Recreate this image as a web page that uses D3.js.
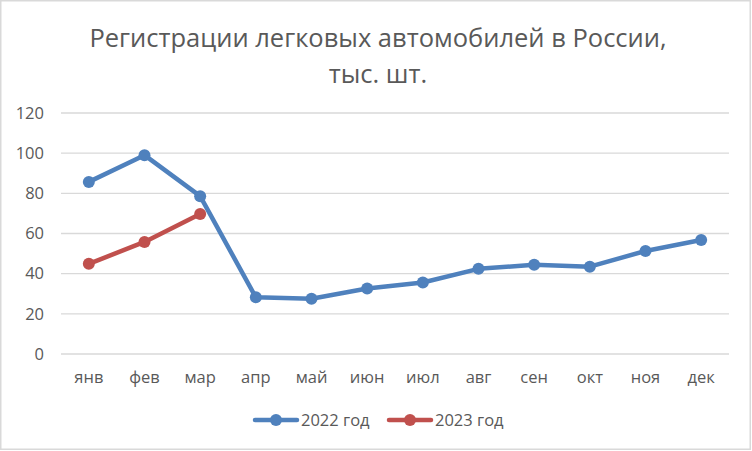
<!DOCTYPE html>
<html>
<head>
<meta charset="utf-8">
<script src="https://cdn.jsdelivr.net/npm/d3@7"></script>
<style>
  body { margin: 0; background: #fff; }
  text { font-family: "Open Sans", "Noto Sans", sans-serif; fill: #595959; }
</style>
</head>
<body>
<div id="chart"></div>
<script>
// months and series
var months = ["янв", "фев", "мар", "апр", "май", "июн", "июл", "авг", "сен", "окт", "ноя", "дек"];
var values2022 = [85.7, 99, 78.6, 28.2, 27.5, 32.6, 35.6, 42.4, 44.4, 43.5, 51.3, 56.8];
var values2023 = [44.9, 55.8, 69.7];
var yTicks = [0, 20, 40, 60, 80, 100, 120];
var seriesNames = ["2022 год", "2023 год"];
var colors = ["#4f81bd", "#c0504d"];

var W = 752, H = 451;
var margin = {top: 113, right: 23, bottom: 97, left: 61},
    width = W - margin.left - margin.right,
    height = H - margin.top - margin.bottom;

var svg = d3.select("#chart")
  .append("svg")
  .attr("width", W)
  .attr("height", H);

// outer border
svg.append("rect")
  .attr("x", 0.75).attr("y", 0.75)
  .attr("width", W - 2.5).attr("height", H - 2.5)
  .attr("fill", "#fff")
  .attr("stroke", "#d9d9d9")
  .attr("stroke-width", 1.5);

// title
svg.append("text")
  .attr("x", 378).attr("y", 47)
  .attr("text-anchor", "middle")
  .style("font-size", "25.5px")
  .text("Регистрации легковых автомобилей в России,");
svg.append("text")
  .attr("x", 378).attr("y", 83)
  .attr("text-anchor", "middle")
  .style("font-size", "25.5px")
  .text("тыс. шт.");

var g = svg.append("g")
  .attr("transform", "translate(" + margin.left + "," + margin.top + ")");

var x = d3.scaleBand()
  .domain(months)
  .range([0, width]);

var y = d3.scaleLinear()
  .domain([0, 120])
  .range([height, 0]);

// gridlines
g.selectAll(".grid")
  .data(yTicks)
  .enter()
  .append("line")
    .attr("x1", 0).attr("x2", width)
    .attr("y1", function(d) { return y(d); })
    .attr("y2", function(d) { return y(d); })
    .attr("stroke", "#d9d9d9")
    .attr("stroke-width", 1.3);

// Y axis
var yAxis = g.append("g")
  .call(d3.axisLeft(y).tickValues(yTicks).tickSize(0).tickPadding(17));
yAxis.select(".domain").remove();
yAxis.selectAll("text").style("font-size", "16.5px").attr("fill", "#595959");

// X axis
var xAxis = g.append("g")
  .attr("transform", "translate(0," + height + ")")
  .call(d3.axisBottom(x).tickSize(0).tickPadding(17));
xAxis.select(".domain").remove();
xAxis.selectAll("text").style("font-size", "16.5px").attr("fill", "#595959");

var line = d3.line()
  .x(function(d, i) { return x(months[i]) + x.bandwidth() / 2; })
  .y(function(d) { return y(d); });

[values2022, values2023].forEach(function(vals, k) {
  g.append("path")
    .datum(vals)
    .attr("fill", "none")
    .attr("stroke", colors[k])
    .attr("stroke-width", 4.5)
    .attr("stroke-linejoin", "round")
    .attr("d", line);

  g.selectAll(".pt" + k)
    .data(vals)
    .enter()
    .append("circle")
      .attr("cx", function(d, i) { return x(months[i]) + x.bandwidth() / 2; })
      .attr("cy", function(d) { return y(d); })
      .attr("r", 6)
      .attr("fill", colors[k]);
});

// legend
var legendX = [255, 389];
seriesNames.forEach(function(name, k) {
  var lg = svg.append("g").attr("transform", "translate(" + legendX[k] + ",420)");
  lg.append("line")
    .attr("x1", 0).attr("x2", 42)
    .attr("stroke", colors[k])
    .attr("stroke-width", 4.5)
    .attr("stroke-linecap", "round");
  lg.append("circle")
    .attr("cx", 21).attr("r", 6)
    .attr("fill", colors[k]);
  lg.append("text")
    .attr("x", 46).attr("y", 6)
    .style("font-size", "16.5px")
    .text(name);
});
</script>
</body>
</html>
